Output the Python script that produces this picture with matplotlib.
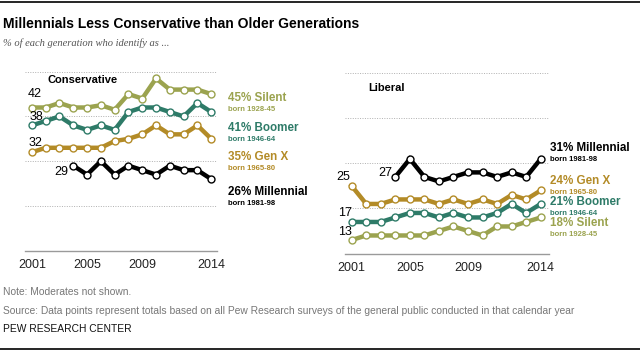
import matplotlib
matplotlib.use("Agg")
import matplotlib.pyplot as plt
from matplotlib import font_manager
from matplotlib.lines import Line2D

W, H = 640, 354

# ---------------------------------------------------------------------------
# Data
# ---------------------------------------------------------------------------
YEARS = list(range(2001, 2015))
MILL_YEARS = list(range(2004, 2015))

CONS_SILENT = [42, 42, 43, 42, 42, 42.5, 41.5, 45, 44, 48.5, 46, 46, 46, 45]
CONS_BOOMER = [38, 39, 40, 38, 37, 38, 37, 41, 42, 42, 41, 40, 43, 41]
CONS_GENX = [32, 33, 33, 33, 33, 33, 34.5, 35, 36, 38, 36, 36, 38, 35]
CONS_MILL = [29, 27, 30, 27, 29, 28, 27, 29, 28, 28, 26]

LIB_SILENT = [13, 14, 14, 14, 14, 14, 15, 16, 15, 14, 16, 16, 17, 18]
LIB_BOOMER = [17, 17, 17, 18, 19, 19, 18, 19, 18, 18, 19, 21, 19, 21]
LIB_GENX = [25, 21, 21, 22, 22, 22, 21, 22, 21, 22, 21, 23, 22, 24]
LIB_MILL = [27, 31, 27, 26, 27, 28, 28, 27, 28, 27, 31]

XTICKS = [2001, 2005, 2009, 2014]
YGRID = [20, 30, 40, 50]

C_SILENT = "#9ba34f"
C_BOOMER = "#2e7b68"
C_GENX = "#b38b27"
C_MILL = "#000000"

# fonts
_names = {f.name for f in font_manager.fontManager.ttflist}
SANS = "Liberation Sans" if "Liberation Sans" in _names else "DejaVu Sans"
NARROW = "Liberation Sans Narrow" if "Liberation Sans Narrow" in _names else SANS
SERIF = "Liberation Serif" if "Liberation Serif" in _names else "DejaVu Serif"
plt.rcParams["font.family"] = [SANS, "DejaVu Sans"]


def px(x, y):
    """pixel position (from top-left) -> figure fraction"""
    return x / W, 1 - y / H


def make_axes(fig, left, right, y10, y50):
    # axes spans ylim 10..52, xlim given in pixels
    unit = (y10 - y50) / 40.0
    top = y50 - 2 * unit
    ax = fig.add_axes([left / W, 1 - y10 / H, (right - left) / W, (y10 - top) / H])
    ax.set_ylim(10, 52)
    for s in ("top", "right", "left"):
        ax.spines[s].set_visible(False)
    ax.spines["bottom"].set_color("#9a9a9a")
    ax.spines["bottom"].set_linewidth(1.0)
    ax.set_yticks([])
    ax.set_xticks(XTICKS)
    ax.tick_params(axis="x", length=0, labelsize=9, pad=6, labelcolor="#222222")
    for g in YGRID:
        ax.axhline(g, color="#b0b0b0", lw=0.7, ls=(0, (1, 1.5)), zorder=0)
    ax.patch.set_alpha(0)
    return ax


def series(ax, x, y, color):
    ax.plot(x, y, color=color, lw=3.2, solid_joinstyle="miter",
            marker="o", ms=5, mfc="white", mec=color, mew=1.0, zorder=3,
            clip_on=False)


fig = plt.figure(figsize=(W / 100, H / 100), dpi=100)

# frame lines, title, subtitle
fig.add_artist(Line2D([0, 1], [1 - 2 / H, 1 - 2 / H], color="black", lw=1.2))
fig.add_artist(Line2D([0, 1], [1 - 349 / H, 1 - 349 / H], color="black", lw=1.2))
fig.text(*px(3, 24), "Millennials Less Conservative than Older Generations",
         family=[NARROW, "DejaVu Sans"], weight="bold", size=10, va="center")
fig.text(*px(3, 43), "% of each generation who identify as ...",
         family=[SERIF, "DejaVu Serif"], style="italic", size=7.6,
         color="#555555", va="center")

# ---------------- Conservative ----------------
axL = make_axes(fig, 25, 217, 250.7, 71.7)
axL.set_xlim(2000.5, 2014.42)
series(axL, YEARS, CONS_SILENT, C_SILENT)
series(axL, YEARS, CONS_BOOMER, C_BOOMER)
series(axL, YEARS, CONS_GENX, C_GENX)
series(axL, MILL_YEARS, CONS_MILL, C_MILL)
fig.text(*px(48, 80), "Conservative", weight="bold", size=8, va="center")

fig.text(*px(42, 94), f"{CONS_SILENT[0]:g}", size=9, ha="right", va="center")
fig.text(*px(43, 117), f"{CONS_BOOMER[0]:g}", size=9, ha="right", va="center")
fig.text(*px(42, 142.5), f"{CONS_GENX[0]:g}", size=9, ha="right", va="center")
fig.text(*px(68, 172), f"{CONS_MILL[0]:g}", size=9, ha="right", va="center")

LEFT_LABELS = [
    (f"{CONS_SILENT[-1]:g}% Silent", "born 1928-45", C_SILENT, 97.7),
    (f"{CONS_BOOMER[-1]:g}% Boomer", "born 1946-64", C_BOOMER, 128),
    (f"{CONS_GENX[-1]:g}% Gen X", "born 1965-80", C_GENX, 157.3),
    (f"{CONS_MILL[-1]:g}% Millennial", "born 1981-98", C_MILL, 191.7),
]

# ---------------- Liberal ----------------
axR = make_axes(fig, 345, 549, 253.5, 73.3)
axR.set_xlim(2000.54, 2014.57)
series(axR, YEARS, LIB_SILENT, C_SILENT)
series(axR, YEARS, LIB_BOOMER, C_BOOMER)
series(axR, YEARS, LIB_GENX, C_GENX)
series(axR, MILL_YEARS, LIB_MILL, C_MILL)
fig.text(*px(368, 88), "Liberal", weight="bold", size=8, va="center")

fig.text(*px(350, 176.7), f"{LIB_GENX[0]:g}", size=9, ha="right", va="center")
fig.text(*px(392, 173), f"{LIB_MILL[0]:g}", size=9, ha="right", va="center")
fig.text(*px(352, 212.7), f"{LIB_BOOMER[0]:g}", size=9, ha="right", va="center")
fig.text(*px(352, 232), f"{LIB_SILENT[0]:g}", size=9, ha="right", va="center")

RIGHT_LABELS = [
    (f"{LIB_MILL[-1]:g}% Millennial", "born 1981-98", C_MILL, 148),
    (f"{LIB_GENX[-1]:g}% Gen X", "born 1965-80", C_GENX, 180.7),
    (f"{LIB_BOOMER[-1]:g}% Boomer", "born 1946-64", C_BOOMER, 202.3),
    (f"{LIB_SILENT[-1]:g}% Silent", "born 1928-45", C_SILENT, 223.3),
]

for x0, labels in ((228, LEFT_LABELS), (550, RIGHT_LABELS)):
    for big, small, col, y in labels:
        fig.text(*px(x0, y), big, color=col, weight="bold", size=8.4, va="center")
        fig.text(*px(x0, y + 11.5), small, color=col, weight="bold", size=5.5,
                 va="center")

# notes
fig.text(*px(3, 292), "Note: Moderates not shown.", family=[NARROW, "DejaVu Sans"],
         size=7.4, color="#777777", va="center")
fig.text(*px(3, 311), "Source: Data points represent totals based on all Pew Research "
         "surveys of the general public conducted in that calendar year",
         family=[NARROW, "DejaVu Sans"], size=7.4, color="#777777", va="center")
fig.text(*px(3, 329), "PEW RESEARCH CENTER", family=[NARROW, "DejaVu Sans"],
         size=7.4, color="#111111", va="center")

fig.savefig("out.png", dpi=100)
